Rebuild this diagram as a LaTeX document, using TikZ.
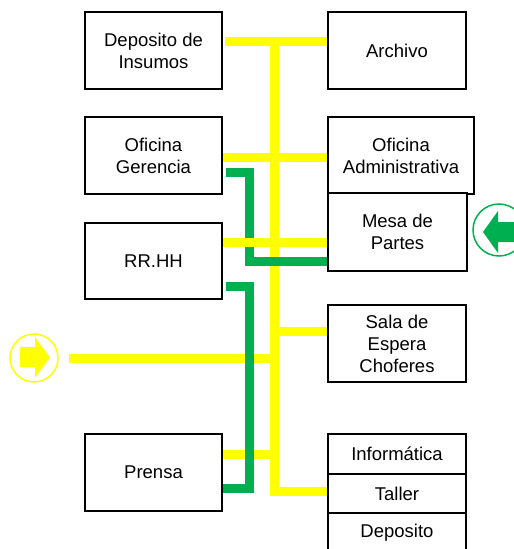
\documentclass[tikz,border=0pt]{standalone}
\usepackage{fontspec}
\setmainfont{Liberation Sans}
\usetikzlibrary{backgrounds}
\definecolor{ylw}{HTML}{FFFF00}
\definecolor{grn}{HTML}{00B050}
\begin{document}
\begin{tikzpicture}[x=1pt,y=-1pt,
  room/.style={draw=black, line width=1.1pt, fill=white, inner sep=0pt, align=center,
    font=\fontsize{18.5}{22}\selectfont, minimum width=137pt, minimum height=77pt},
  yel/.style={draw=ylw, line width=9pt, line cap=butt, line join=miter},
  grl/.style={draw=grn, line width=9pt, line cap=butt, line join=miter}]
\useasboundingbox (0,0) rectangle (514,549);
% boxes
\node[room] (dep) at (153.5,50.5) {Deposito de\\Insumos};
\node[room, minimum width=138pt] (arc) at (397,50.5) {Archivo};
\node[room] (ger) at (153.5,155.5) {Oficina\\Gerencia};
\node[room, minimum width=146pt] (adm) at (401,155.5) {Oficina\\Administrativa};
\node[room, minimum width=139pt, minimum height=78pt] (mesa) at (397.5,232) {Mesa de\\Partes};
\node[room, minimum height=76pt] (rrhh) at (153.5,261) {RR.HH};
\node[room, minimum width=138pt] (sala) at (397,343.5) {Sala de\\Espera\\Choferes};
\node[room] (prensa) at (153.5,472.5) {Prensa};
\node[room, minimum width=138pt, minimum height=40pt] (info) at (397,454) {Informática};
\node[room, minimum width=138pt, minimum height=39pt] (taller) at (397,493.5) {Taller};
\node[room, minimum width=138pt, minimum height=40pt] (depo) at (397,533) {Deposito};
% junction coordinates
\coordinate (ttop) at (274.5,41);
\coordinate (tbot) at (274.5,491);
\coordinate (tsala) at (274.5,331);
\coordinate (tleft) at (274.5,358);
\coordinate (tpren) at (274.5,454);
\coordinate (lstart) at (69,358);
\coordinate (g1) at (249,172);
\coordinate (g2) at (249,261);
\coordinate (g3) at (249.5,286);
\coordinate (g4) at (249.5,488);
\begin{scope}[on background layer]
% yellow network
\draw[yel] ([xshift=2pt]dep.east |- ttop) -- (arc.west |- ttop);
\draw[yel] (ttop) -- (tbot) -- (taller.west |- tbot);
\draw[yel] (ger.east |- 0,157) -- (adm.west |- 0,157);
\draw[yel] (tsala) -- (sala.west |- tsala);
\draw[yel] (lstart) -- (tleft);
\draw[yel] (prensa.east |- tpren) -- (tpren);
% green network
\draw[grl] ([xshift=3pt]ger.east |- g1) -- (g1) -- (g2) -- (mesa.west |- g2);
\draw[grl] ([xshift=3pt]rrhh.east |- g3) -- (g3) -- (g4) -- (prensa.east |- g4);
% yellow over green
\draw[yel] (rrhh.east |- 0,242) -- (mesa.west |- 0,242);
\end{scope}
% entry circles
\node[draw=ylw, line width=1.5pt, fill=white, circle, minimum size=48pt, inner sep=0pt] (yin) at (34,358) {};
\fill[ylw] (20,347) -- (35,347) -- (35,337) -- (50,357.5) -- (35,378) -- (35,367) -- (20,367) -- cycle;
\node[draw=grn, line width=1.5pt, fill=white, circle, minimum size=52pt, inner sep=0pt] (gin) at (499,230) {};
\fill[grn] (530,222) -- (498,222) -- (498,211) -- (483,232) -- (498,253) -- (498,242) -- (530,242) -- cycle;
\end{tikzpicture}
\end{document}
